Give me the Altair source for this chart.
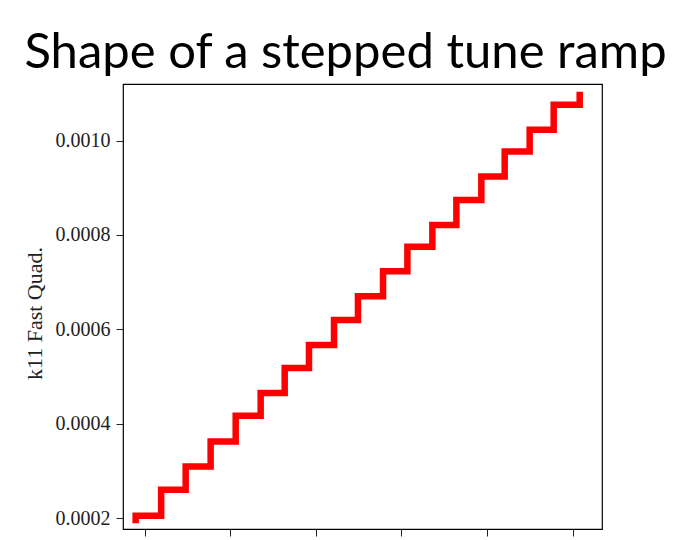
import altair as alt
import pandas as pd

title_text = "Shape of a stepped tune ramp"
y_title = "k11 Fast Quad."

# step start times (x) and k11 levels
time_values = [-0.109, -0.109, 0.189, 0.476, 0.768, 1.061, 1.353, 1.634, 1.918,
               2.211, 2.491, 2.784, 3.069, 3.361, 3.642, 3.934, 4.207, 4.499,
               4.780, 5.084]
k11_values = [0.000196, 0.000205, 0.000260, 0.000309, 0.000362, 0.000417,
              0.000465, 0.000518, 0.000567, 0.000620, 0.000670, 0.000723,
              0.000775, 0.000821, 0.000874, 0.000924, 0.000977, 0.001023,
              0.001076, 0.001097]
x_ticks = [0, 1, 2, 3, 4, 5]
y_ticks = [0.0002, 0.0004, 0.0006, 0.0008, 0.0010]

df = pd.DataFrame({"t": time_values, "k11": k11_values,
                   "i": list(range(len(time_values)))})

chart = alt.Chart(df).mark_line(
    color="#ff0000", strokeWidth=6.5, strokeCap="square",
    strokeJoin="miter", interpolate="step-after"
).encode(
    x=alt.X("t:Q", title=None,
            scale=alt.Scale(domain=[-0.257, 5.345], nice=False, zero=False),
            axis=alt.Axis(values=x_ticks, labels=False, tickSize=7,
                          tickColor="#222", tickWidth=1, domain=False,
                          grid=False)),
    y=alt.Y("k11:Q",
            scale=alt.Scale(domain=[0.0001767, 0.0011201], nice=False, zero=False),
            axis=alt.Axis(values=y_ticks, format=".4f", title=y_title,
                          labelFont="Liberation Serif", labelFontSize=20,
                          labelColor="#222", tickSize=7, tickColor="#222",
                          tickWidth=1, labelPadding=6, domain=False, grid=False,
                          titleFont="Liberation Serif", titleFontSize=22,
                          titleFontWeight="normal", titleColor="#222",
                          titlePadding=9, titleY=229)),
    order="i:Q",
).properties(
    width=479, height=445,
    autosize=alt.AutoSizeParams(type="none"),
    padding={"left": 115, "top": 76, "right": 66, "bottom": 9},
    title=alt.TitleParams(text=title_text, font="Lato", fontSize=49,
                          fontWeight="normal", color="black", anchor="middle",
                          dx=-17, dy=51, offset=16, baseline="alphabetic"),
    background="white",
).configure_view(stroke="black", strokeWidth=1.2)

chart.save("out.html", embed_options={"renderer": "svg", "actions": False})
